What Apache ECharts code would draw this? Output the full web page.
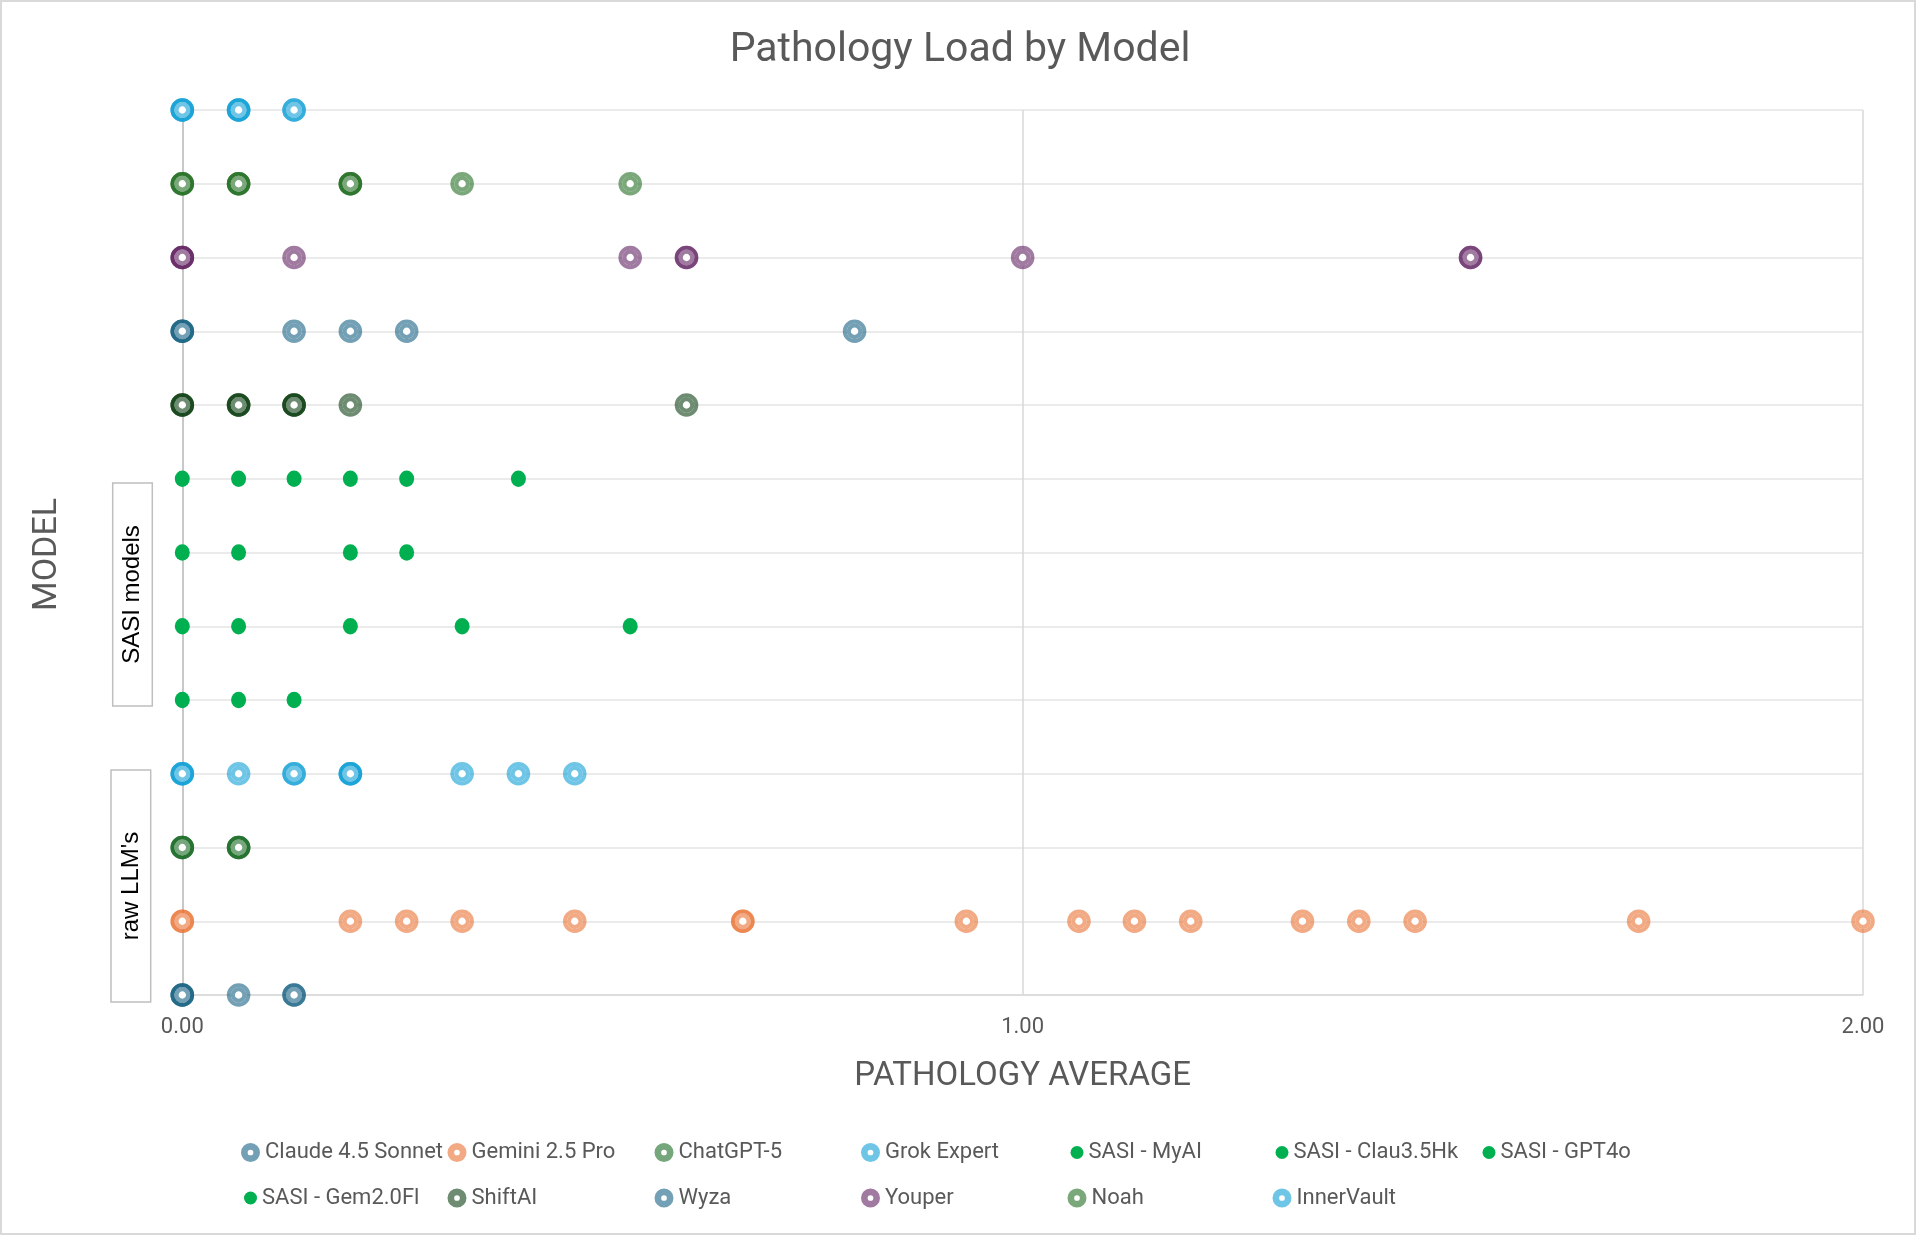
<!DOCTYPE html>
<html><head><meta charset="utf-8">
<script src="https://cdn.jsdelivr.net/npm/echarts@6/dist/echarts.min.js"></script>
<style>html,body{margin:0;padding:0;background:#fff}#c{width:1920px;height:1237px}</style>
</head><body><div id="c"></div>
<script>
// ---------- DATA ----------
const models = ['Claude 4.5 Sonnet','Gemini 2.5 Pro','ChatGPT-5','Grok Expert','SASI - MyAI','SASI - Clau3.5Hk','SASI - GPT4o','SASI - Gem2.0Fl','ShiftAI','Wyza','Youper','Noah','InnerVault'];
const claudeVals     = [0,0,0, 0.067, 0.133,0.133];
const geminiVals     = [0,0, 0.2, 0.267, 0.333, 0.467, 0.667,0.667, 0.933, 1.067, 1.133, 1.2, 1.333, 1.4, 1.467, 1.733, 2.0];
const chatgptVals    = [0,0,0, 0.067,0.067,0.067];
const grokVals       = [0,0,0, 0.067, 0.133,0.133, 0.2,0.2,0.2, 0.333, 0.4, 0.467];
const sasiMyAIVals   = [0, 0.067, 0.133];
const sasiClauVals   = [0, 0.067, 0.2, 0.333, 0.533];
const sasiGPT4oVals  = [0, 0.067, 0.2, 0.267];
const sasiGemVals    = [0, 0.067, 0.133, 0.2, 0.267, 0.4];
const shiftAIVals    = [0,0,0, 0.067,0.067,0.067, 0.133,0.133,0.133, 0.2, 0.6];
const wyzaVals       = [0,0,0, 0.133, 0.2, 0.267, 0.8];
const youperVals     = [0,0,0, 0.133, 0.533, 0.6,0.6, 1.0, 1.533,1.533];
const noahVals       = [0,0,0, 0.067,0.067,0.067, 0.2,0.2,0.2, 0.333, 0.533];
const innerVaultVals = [0,0,0, 0.067,0.067,0.067, 0.133,0.133];
const xTickValues = [0, 1, 2];

const valuesByModel = [claudeVals, geminiVals, chatgptVals, grokVals, sasiMyAIVals, sasiClauVals, sasiGPT4oVals, sasiGemVals, shiftAIVals, wyzaVals, youperVals, noahVals, innerVaultVals];

// ---------- STYLE ----------
const baseColors = ['#156082','#E97132','#196B24','#0F9ED5','#00B050','#00B050','#00B050','#00B050','#0E3F12','#156082','#612161','#216E21','#0F9ED5'];
const solidDot = [false,false,false,false,true,true,true,true,false,false,false,false,false];
const ALPHA = 0.6;
function hexRgb(h){h=h.replace('#','');return [0,2,4].map(i=>parseInt(h.substr(i,2),16));}
function rgba(h,a){const c=hexRgb(h);return `rgba(${c[0]},${c[1]},${c[2]},${a})`;}
function light(h){const c=hexRgb(h).map(v=>Math.round(255-ALPHA*(255-v)));return `rgb(${c[0]},${c[1]},${c[2]})`;}
const ELLIPSE = 'path://M0,-1A1,1 0 1,1 0,1A1,1 0 1,1 0,-1Z';
const RING_ICON = 'path://M0,-10A10,10 0 1,1 0,10A10,10 0 1,1 0,-10Z M0,-3A3,3 0 1,0 0,3A3,3 0 1,0 0,-3Z';
const FONT = 'Roboto';
const GREY = '#595959';

const series = [];
models.forEach((m,i)=>{
  const data = valuesByModel[i].map(v=>[v,m]);
  if (solidDot[i]) {
    series.push({type:'scatter', name:m, data, symbol:ELLIPSE, symbolSize:[15,16.5],
      itemStyle:{color:baseColors[i], opacity:1}, emphasis:{disabled:true}, z:3});
  } else {
    series.push({type:'scatter', name:m, data, symbol:'circle', symbolSize:19.6,
      itemStyle:{color:'rgba(0,0,0,0)', borderColor:rgba(baseColors[i],ALPHA), borderWidth:4, opacity:1},
      emphasis:{disabled:true}, z:3});
    series.push({type:'scatter', name:m, data, symbol:'circle', symbolSize:11.6,
      itemStyle:{color:'#ffffff', borderColor:light(baseColors[i]), borderWidth:4.2, opacity:1},
      emphasis:{disabled:true}, z:4});
  }
});

// legend grid (two rows, seven columns)
const legendCols = [250.5, 457, 664, 870.5, 1077, 1282, 1489];
const legendRows = [1152.5, 1198];
const legends = models.map((m,i)=>{
  const col = i % 7, row = Math.floor(i / 7);
  const w = solidDot[i] ? 13 : 19, h = solidDot[i] ? 13 : 19;
  return {
    data:[{name:m, icon: solidDot[i] ? ELLIPSE : RING_ICON,
      itemStyle:{color: solidDot[i] ? baseColors[i] : light(baseColors[i]), borderWidth:0}}],
    left: legendCols[col] - w/2, top: legendRows[row] - 12, padding:0,
    itemWidth:w, itemHeight:h, selectedMode:false,
    textStyle:{fontFamily:FONT, fontSize:22, color:GREY, lineHeight:24}
  };
});

const option = {
  animation:false,
  backgroundColor:'#ffffff',
  title:{text:'Pathology Load by Model', left:'center', top:25,
    textStyle:{fontFamily:FONT, fontSize:41, fontWeight:'normal', color:GREY}},
  grid:{left:182.3, right:57, top:110, bottom:242, containLabel:false},
  xAxis:{type:'value', min:0, max:2, interval:1,
    name:'PATHOLOGY AVERAGE', nameLocation:'middle', nameGap:65,
    nameTextStyle:{fontFamily:FONT, fontSize:33, color:GREY},
    axisLine:{show:true, lineStyle:{color:'#d9d9d9', width:1.5}},
    axisTick:{show:false},
    axisLabel:{fontFamily:FONT, fontSize:22, color:GREY, margin:21,
      formatter:v=> xTickValues.includes(v) ? v.toFixed(2) : ''},
    splitLine:{show:true, lineStyle:{color:'#d9d9d9', width:1.5}}},
  yAxis:{type:'category', data:models, boundaryGap:false,
    name:'MODEL', nameLocation:'middle', nameGap:118, nameRotate:90,
    nameTextStyle:{fontFamily:FONT, fontSize:34, color:GREY, padding:[0,4,0,0]},
    axisLine:{show:true, lineStyle:{color:'#bfbfbf', width:1.5}},
    axisTick:{show:false, interval:0},
    axisLabel:{show:false, interval:0},
    splitLine:{show:true, interval:0, lineStyle:{color:'#ebebeb', width:2}}},
  legend: legends,
  graphic:[
    {type:'rect', shape:{x:1, y:1, width:1914, height:1233}, style:{fill:'none', stroke:'#d9d9d9', lineWidth:2}, z:0, silent:true},
    {type:'rect', shape:{x:112.7, y:483, width:39.6, height:223}, style:{fill:'#fff', stroke:'#bfbfbf', lineWidth:1.5}, z:10, silent:true},
    {type:'text', x:132.5, y:594.5, rotation:Math.PI/2, style:{text:'SASI models', fontFamily:'Liberation Sans', fontSize:24, fill:'#000', align:'center', verticalAlign:'middle'}, z:11, silent:true},
    {type:'rect', shape:{x:111, y:770, width:39.7, height:232}, style:{fill:'#fff', stroke:'#bfbfbf', lineWidth:1.5}, z:10, silent:true},
    {type:'text', x:131, y:886, rotation:Math.PI/2, style:{text:"raw LLM's", fontFamily:'Liberation Sans', fontSize:24, fill:'#000', align:'center', verticalAlign:'middle'}, z:11, silent:true}
  ],
  series
};
const chart = echarts.init(document.getElementById('c'), null, {renderer:'canvas'});
chart.setOption(option);
</script></body></html>
